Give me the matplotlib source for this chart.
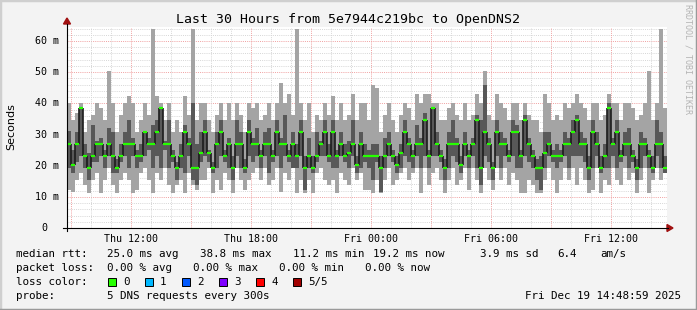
import matplotlib
matplotlib.use('Agg')
import matplotlib.pyplot as plt
from matplotlib.patches import Rectangle, Polygon
from matplotlib.lines import Line2D
from matplotlib.transforms import blended_transform_factory, ScaledTranslation

W, H = 697, 310

# window: Thu 08:49 -> Fri 14:49, one column every 12 minutes (hours since start)
step = 0.2

# median rtt per column (ms)
med = [26.9, 20.2, 26.9, 38.5, 23.1, 19.2, 23.1, 26.9, 26.9, 23.1, 26.9, 23.1, 19.2, 23.1, 26.9,
       26.9, 26.9, 23.1, 23.1, 30.8, 26.9, 26.9, 30.8, 38.5, 26.9, 26.9, 23.1, 19.2, 23.1, 30.8,
       26.9, 19.2, 19.2, 24.0, 30.8, 24.0, 19.2, 26.9, 30.8, 23.1, 26.9, 19.2, 26.9, 26.9, 19.2,
       30.8, 26.9, 26.9, 23.1, 26.9, 26.9, 23.1, 30.8, 26.9, 26.9, 23.1, 26.9, 23.1, 30.8, 19.2,
       23.1, 19.2, 23.1, 26.9, 30.8, 23.1, 30.8, 23.1, 26.9, 23.1, 24.0, 26.9, 20.2, 26.9, 23.1,
       23.1, 23.1, 23.1, 19.2, 23.1, 26.9, 23.1, 20.2, 24.0, 30.8, 26.9, 23.1, 26.9, 26.9, 34.6,
       23.1, 38.5, 26.9, 23.1, 19.2, 26.9, 26.9, 26.9, 20.2, 26.9, 23.1, 26.9, 34.6, 19.2, 30.8,
       26.9, 19.2, 30.8, 26.9, 26.9, 23.1, 30.8, 30.8, 23.1, 34.6, 26.9, 23.1, 19.2, 19.2, 24.0,
       26.9, 23.1, 23.1, 23.1, 26.9, 26.9, 30.8, 34.6, 26.9, 26.9, 19.2, 30.8, 26.9, 19.2, 23.1,
       38.5, 26.9, 30.8, 23.1, 26.9, 26.9, 23.1, 19.2, 26.9, 26.9, 23.1, 19.2, 26.9, 26.9, 19.2]

# 2nd and 4th of the 5 sorted pings (dark smoke)
q1 = [19.2, 17.5, 21.3, 23.1, 19.2, 15.4, 21.3, 21.3, 23.1, 19.2, 23.1, 17.5, 17.5, 21.3, 23.1,
      19.2, 23.1, 19.2, 21.3, 23.1, 25.0, 19.2, 23.1, 19.2, 25.0, 19.2, 21.3, 15.4, 19.2, 17.5,
      23.1, 15.4, 13.8, 21.3, 23.1, 21.3, 17.5, 19.2, 23.1, 21.3, 19.2, 15.4, 23.1, 19.2, 17.5,
      23.1, 21.3, 23.1, 19.2, 23.1, 17.5, 21.3, 23.1, 19.2, 23.1, 21.3, 19.2, 19.2, 23.1, 12.2,
      19.2, 17.5, 21.3, 23.1, 23.1, 21.3, 19.2, 19.2, 23.1, 21.3, 19.2, 23.1, 17.5, 19.2, 21.3,
      19.2, 15.4, 21.3, 11.5, 19.2, 23.1, 21.3, 17.5, 19.2, 23.1, 21.3, 19.2, 23.1, 19.2, 23.1,
      19.2, 23.1, 23.1, 21.3, 15.4, 19.2, 23.1, 21.3, 17.5, 23.1, 19.2, 23.1, 19.2, 13.8, 23.1,
      21.3, 15.4, 23.1, 19.2, 23.1, 21.3, 23.1, 19.2, 19.2, 23.1, 21.3, 19.2, 15.4, 12.2, 19.2,
      23.1, 21.3, 19.2, 21.3, 23.1, 19.2, 23.1, 23.1, 23.1, 21.3, 15.4, 19.2, 23.1, 17.5, 19.2,
      19.2, 23.1, 19.2, 21.3, 23.1, 19.2, 21.3, 15.4, 19.2, 23.1, 19.2, 17.5, 23.1, 19.2, 17.5]

q3 = [31.0, 25.0, 30.8, 38.5, 27.0, 24.0, 33.0, 28.0, 29.0, 25.0, 32.0, 30.8, 22.0, 27.0, 30.8,
      34.6, 28.8, 25.0, 27.0, 31.0, 28.8, 33.0, 34.6, 38.9, 28.0, 34.6, 25.0, 21.3, 27.0, 33.0,
      28.8, 40.0, 26.9, 30.8, 34.6, 25.0, 21.3, 30.8, 34.6, 25.0, 28.8, 23.1, 34.6, 30.8, 22.0,
      34.6, 28.8, 32.0, 25.0, 30.8, 32.0, 25.0, 34.6, 28.8, 36.4, 25.0, 30.8, 27.0, 34.6, 23.1,
      28.8, 23.1, 30.8, 28.0, 34.6, 27.0, 34.6, 25.0, 30.8, 26.9, 28.0, 34.6, 23.1, 30.8, 27.0,
      25.0, 26.9, 27.0, 23.1, 28.8, 30.8, 25.0, 23.1, 27.0, 34.6, 28.8, 25.0, 33.0, 28.8, 37.0,
      25.0, 38.9, 30.8, 25.0, 22.0, 30.8, 34.6, 28.8, 23.1, 30.8, 25.0, 28.8, 36.4, 34.6, 46.0,
      28.8, 21.3, 34.6, 30.8, 28.8, 25.0, 34.6, 33.0, 25.0, 36.4, 28.8, 25.0, 22.0, 23.1, 30.8,
      30.8, 25.0, 26.9, 25.0, 30.8, 28.8, 34.6, 36.4, 30.8, 28.8, 23.1, 34.6, 30.8, 23.1, 27.0,
      40.0, 28.8, 34.6, 25.0, 30.8, 32.0, 25.0, 22.0, 30.8, 28.8, 25.0, 23.1, 34.6, 30.8, 23.1]

# fastest and slowest ping (light smoke)
lo = [12.2, 11.5, 15.4, 17.5, 13.8, 11.1, 15.4, 17.5, 11.1, 15.4, 19.2, 13.8, 11.1, 15.4, 17.5,
      15.4, 11.1, 12.2, 17.5, 19.2, 15.4, 11.1, 17.5, 15.4, 19.2, 13.8, 11.1, 13.8, 15.4, 11.1,
      17.5, 13.8, 12.2, 15.4, 15.4, 19.2, 11.1, 15.4, 12.2, 17.5, 15.4, 11.1, 19.2, 15.4, 12.2,
      15.4, 17.5, 19.2, 15.4, 19.2, 13.8, 15.4, 19.2, 11.5, 17.5, 15.4, 19.2, 11.1, 15.4, 11.1,
      15.4, 11.1, 17.5, 19.2, 15.4, 13.8, 15.4, 11.1, 17.5, 15.4, 13.8, 19.2, 15.4, 17.5, 12.2,
      12.2, 11.1, 15.4, 11.1, 15.4, 19.2, 13.8, 15.4, 17.5, 19.2, 15.4, 17.5, 19.2, 11.1, 19.2,
      13.8, 17.5, 19.2, 15.4, 11.1, 15.4, 19.2, 13.8, 15.4, 19.2, 12.2, 19.2, 15.4, 11.1, 19.2,
      15.4, 12.2, 19.2, 15.4, 19.2, 13.8, 17.5, 15.4, 11.1, 11.1, 15.4, 13.8, 11.1, 11.1, 15.4,
      19.2, 15.4, 11.1, 15.4, 19.2, 15.4, 19.2, 13.8, 19.2, 15.4, 11.1, 12.2, 19.2, 11.1, 15.4,
      13.8, 19.2, 15.4, 13.8, 19.2, 15.4, 17.5, 11.1, 15.4, 19.2, 11.1, 15.4, 19.2, 15.4, 19.2]

hi = [40.0, 34.6, 37.0, 40.0, 30.8, 34.6, 36.4, 40.0, 38.5, 34.6, 50.5, 40.0, 30.8, 36.4, 40.0,
      42.5, 40.0, 30.8, 34.6, 40.0, 36.4, 64.0, 42.5, 40.0, 34.6, 40.0, 30.8, 34.6, 30.8, 42.5,
      36.4, 64.0, 34.6, 40.0, 40.0, 34.6, 30.8, 36.4, 40.0, 34.6, 40.0, 34.6, 40.0, 36.4, 30.8,
      40.0, 38.5, 40.0, 34.6, 36.4, 40.0, 34.6, 40.0, 46.4, 40.0, 43.0, 36.4, 64.0, 40.0, 34.6,
      40.0, 30.8, 36.4, 34.6, 40.0, 36.4, 42.5, 34.6, 40.0, 34.6, 36.4, 43.0, 34.6, 40.0, 40.0,
      34.6, 46.0, 45.0, 30.8, 36.4, 40.0, 34.6, 30.8, 36.4, 40.0, 38.5, 34.6, 43.0, 40.0, 43.0,
      43.0, 40.0, 40.0, 34.6, 34.6, 38.5, 40.0, 36.4, 34.6, 40.0, 34.6, 36.4, 43.0, 40.0, 50.5,
      36.4, 34.6, 43.0, 40.0, 38.5, 34.6, 40.0, 40.0, 34.6, 40.0, 36.4, 34.6, 34.6, 30.8, 43.0,
      40.0, 34.6, 36.4, 34.6, 40.0, 38.5, 40.0, 43.0, 40.0, 38.5, 34.6, 40.0, 40.0, 34.6, 36.4,
      43.0, 40.0, 40.0, 34.6, 40.0, 40.0, 38.5, 34.6, 36.4, 40.0, 50.5, 34.6, 40.0, 64.0, 38.5]

xticks = [3.183, 9.183, 15.183, 21.183, 27.183]
xlabels = ['Thu 12:00', 'Thu 18:00', 'Fri 00:00', 'Fri 06:00', 'Fri 12:00']
yticks = [0, 10, 20, 30, 40, 50, 60]
ylabels = ['0', '10 m', '20 m', '30 m', '40 m', '50 m', '60 m']

loss_names = ['0', '1', '2', '3', '4', '5/5']
loss_colors = ['#26ff00', '#00b8ff', '#0059ff', '#7e00ff', '#ff0000', '#a10000']

MONO = 'DejaVu Sans Mono'


def fx(x):
    return x / W


def fy(y):
    return 1 - y / H


fig = plt.figure(figsize=(W / 100, H / 100), dpi=100, facecolor='#f3f3f3')
ax = fig.add_axes([fx(67), fy(228), 600 / W, 201 / H])
ax.set_facecolor('white')
ax.set_xlim(0, 30)
ax.set_ylim(0, 64.5)
for s in ax.spines.values():
    s.set_visible(False)

# grid
dot = (1, 1.2)
for v in range(2, 65, 2):
    major = v % 10 == 0
    ax.axhline(v, color='#f0a0a0' if major else '#d6d6d6', lw=0.7,
               dashes=dot, zorder=0)
for k in range(30):
    h = 0.183 + k
    major = k % 3 == 0
    ax.axvline(h, color='#f0a0a0' if major else '#d6d6d6', lw=0.7,
               dashes=dot, zorder=0)

xs = [i * step for i in range(len(med))]
hgt = [b - a for a, b in zip(lo, hi)]
ax.bar(xs, hgt, bottom=lo, width=step, align='edge', color='#a4a4a4',
       linewidth=0, antialiased=False, zorder=2)
hgt2 = [b - a for a, b in zip(q1, q3)]
ax.bar(xs, hgt2, bottom=q1, width=step, align='edge', color='#585858',
       linewidth=0, antialiased=False, zorder=3)

# median line: black risers, green treads
for i in range(1, len(med)):
    a, b = med[i - 1], med[i]
    if a != b:
        ax.vlines(xs[i], min(a, b), max(a, b), color='#1c1c1c', lw=1.2, zorder=4)
ax.hlines(med, xs, [x + step for x in xs], color=loss_colors[0], lw=1.6, zorder=5)

ax.set_xticks(xticks)
ax.set_xticklabels(xlabels, fontfamily=MONO, fontsize=7.2)
ax.set_yticks([])
ax.tick_params(axis='x', length=0, pad=4)

# y labels: right-aligned on the unit, "0" aligned on the digits
ylab_tr = blended_transform_factory(ax.transAxes, ax.transData)
for v, lab in zip(yticks, ylabels):
    shift = -8 if lab != '0' else -20
    ax.text(0, v, lab, ha='right', va='center', fontfamily=MONO, fontsize=7.2,
            transform=ylab_tr + ScaledTranslation(shift / 100, 0, fig.dpi_scale_trans))

# axis lines + arrows
fig.add_artist(Line2D([fx(67), fx(67)], [fy(231), fy(24)], color='black', lw=0.8))
fig.add_artist(Line2D([fx(63), fx(668)], [fy(228), fy(228)], color='black', lw=0.8))
fig.add_artist(Polygon([[fx(63.5), fy(24)], [fx(70.5), fy(24)], [fx(67), fy(18)]],
                       closed=True, color='#a01010', transform=fig.transFigure))
fig.add_artist(Polygon([[fx(667), fy(224.5)], [fx(667), fy(231.5)], [fx(673), fy(228)]],
                       closed=True, color='#a01010', transform=fig.transFigure))

fig.text(fx(348), fy(19), 'Last 30 Hours from 5e7944c219bc to OpenDNS2',
         ha='center', va='center', fontfamily=MONO, fontsize=9.5)
fig.text(fx(11), fy(127), 'Seconds', rotation=90, ha='center', va='center',
         fontfamily='DejaVu Sans', fontsize=8)
fig.text(fx(688), fy(4), 'RRDTOOL / TOBI OETIKER', rotation=270, ha='center', va='top',
         fontfamily=MONO, fontsize=6, color='#b4b4b4')

fs = 7.8
rows = [
    (254, [(16, 'median rtt:'), (107, '25.0 ms avg'), (200, '38.8 ms max'),
           (293, '11.2 ms min'), (373, '19.2 ms now'), (480, '3.9 ms sd'),
           (557, '6.4'), (600, 'am/s')]),
    (268, [(16, 'packet loss:'), (107, '0.00 % avg'), (193, '0.00 % max'),
           (279, '0.00 % min'), (365, '0.00 % now')]),
    (282, [(16, 'loss color:')]),
    (296, [(16, 'probe:'), (107, '5 DNS requests every 300s')]),
]
for y, parts in rows:
    for x, t in parts:
        fig.text(fx(x), fy(y), t, ha='left', va='center', fontfamily=MONO, fontsize=fs)

box_x = [108, 145, 182, 219, 256, 293]
for bx, name, col in zip(box_x, loss_names, loss_colors):
    fig.add_artist(Rectangle((fx(bx), fy(286)), 8 / W, 8 / H, facecolor=col,
                             edgecolor='black', lw=0.7, transform=fig.transFigure))
    fig.text(fx(bx + 15), fy(282), name, ha='left', va='center', fontfamily=MONO, fontsize=fs)

fig.text(fx(681), fy(296), 'Fri Dec 19 14:48:59 2025', ha='right', va='center',
         fontfamily=MONO, fontsize=fs)

# image frame
fig.add_artist(Line2D([0, 0, 1], [0, 1, 1], color='#cfcfcf', lw=2.5, transform=fig.transFigure))
fig.add_artist(Line2D([0, 1, 1], [0, 0, 1], color='#9a9a9a', lw=2.5, transform=fig.transFigure))

fig.savefig('out.png', dpi=100, facecolor=fig.get_facecolor())
